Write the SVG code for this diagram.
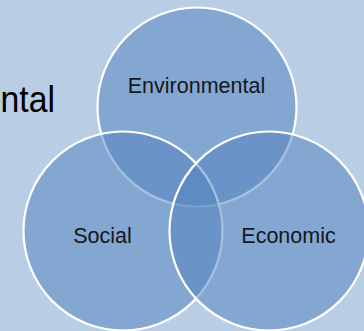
<svg xmlns="http://www.w3.org/2000/svg" width="364" height="331" viewBox="0 0 364 331">
<style>
.bg{fill:#b9cde4}
.c{fill:#4f81bd;fill-opacity:0.5;stroke:#ffffff;stroke-width:2.2}
.lbl{font-family:"Liberation Sans",Arial,sans-serif;font-size:21.5px;fill:#16161c;text-anchor:middle}
.title{font-family:"Liberation Sans",Arial,sans-serif;font-size:36px;fill:#000000}
</style>
<rect class="bg" x="0" y="0" width="364" height="331"/>
<text class="title" x="0.5" y="112" textLength="54.5" lengthAdjust="spacingAndGlyphs">ntal</text>
<g id="environmental">
<circle class="c" cx="197" cy="107" r="99.5"/>
</g>
<g id="social">
<circle class="c" cx="123" cy="231" r="99.5"/>
</g>
<g id="economic">
<circle class="c" cx="269" cy="231" r="99.5"/>
</g>
<g id="connectors"/>
<g id="labels">
<text class="lbl" x="196.5" y="93">Environmental</text>
<text class="lbl" x="102.5" y="243">Social</text>
<text class="lbl" x="288.5" y="243">Economic</text>
</g>
</svg>
